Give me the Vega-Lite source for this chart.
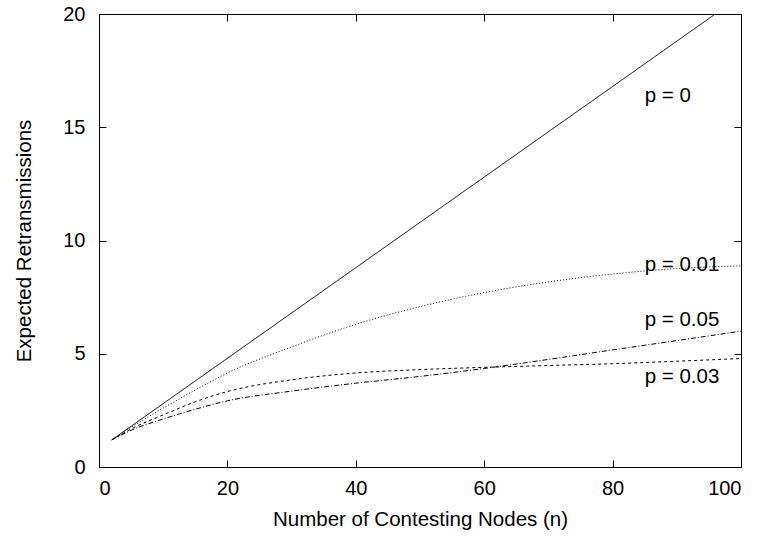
{
  "$schema": "https://vega.github.io/schema/vega-lite/v6.json",
  "width": 642,
  "height": 453,
  "autosize": "none",
  "padding": {"left": 99, "top": 14, "right": 23, "bottom": 69},
  "background": "white",
  "config": {
    "view": {"stroke": "black", "strokeWidth": 1},
    "font": "Liberation Sans",
    "axis": {
      "grid": false, "domain": false, "tickColor": "black", "tickSize": -7, "tickWidth": 1,
      "labelColor": "black", "titleColor": "black", "labelFont": "Liberation Sans", "titleFont": "Liberation Sans",
      "labelFontSize": 20, "titleFontSize": 20.5, "titleFontWeight": "normal"
    }
  },
  "datasets": {
    "curves": [
      {"n": 2, "y": 1.2, "p": "p = 0"},
      {"n": 96, "y": 20, "p": "p = 0"},
      {"n": 2, "y": 1.2, "p": "p = 0.01"},
      {"n": 5, "y": 1.75, "p": "p = 0.01"},
      {"n": 10, "y": 2.6, "p": "p = 0.01"},
      {"n": 15, "y": 3.4, "p": "p = 0.01"},
      {"n": 20, "y": 4.15, "p": "p = 0.01"},
      {"n": 30, "y": 5.3, "p": "p = 0.01"},
      {"n": 40, "y": 6.3, "p": "p = 0.01"},
      {"n": 50, "y": 7.08, "p": "p = 0.01"},
      {"n": 60, "y": 7.7, "p": "p = 0.01"},
      {"n": 70, "y": 8.17, "p": "p = 0.01"},
      {"n": 80, "y": 8.52, "p": "p = 0.01"},
      {"n": 90, "y": 8.76, "p": "p = 0.01"},
      {"n": 100, "y": 8.88, "p": "p = 0.01"},
      {"n": 2, "y": 1.2, "p": "p = 0.03"},
      {"n": 5, "y": 1.68, "p": "p = 0.03"},
      {"n": 10, "y": 2.3, "p": "p = 0.03"},
      {"n": 15, "y": 2.88, "p": "p = 0.03"},
      {"n": 20, "y": 3.33, "p": "p = 0.03"},
      {"n": 30, "y": 3.85, "p": "p = 0.03"},
      {"n": 40, "y": 4.15, "p": "p = 0.03"},
      {"n": 50, "y": 4.3, "p": "p = 0.03"},
      {"n": 60, "y": 4.4, "p": "p = 0.03"},
      {"n": 70, "y": 4.48, "p": "p = 0.03"},
      {"n": 80, "y": 4.56, "p": "p = 0.03"},
      {"n": 90, "y": 4.67, "p": "p = 0.03"},
      {"n": 100, "y": 4.79, "p": "p = 0.03"},
      {"n": 2, "y": 1.2, "p": "p = 0.05"},
      {"n": 5, "y": 1.62, "p": "p = 0.05"},
      {"n": 10, "y": 2.12, "p": "p = 0.05"},
      {"n": 15, "y": 2.55, "p": "p = 0.05"},
      {"n": 20, "y": 2.92, "p": "p = 0.05"},
      {"n": 30, "y": 3.35, "p": "p = 0.05"},
      {"n": 40, "y": 3.7, "p": "p = 0.05"},
      {"n": 50, "y": 4.0, "p": "p = 0.05"},
      {"n": 60, "y": 4.35, "p": "p = 0.05"},
      {"n": 70, "y": 4.75, "p": "p = 0.05"},
      {"n": 80, "y": 5.17, "p": "p = 0.05"},
      {"n": 90, "y": 5.58, "p": "p = 0.05"},
      {"n": 100, "y": 6.0, "p": "p = 0.05"}
    ],
    "labels": [
      {"n": 85, "y": 16.37, "label": "p = 0"},
      {"n": 85, "y": 8.94, "label": "p = 0.01"},
      {"n": 85, "y": 6.5, "label": "p = 0.05"},
      {"n": 85, "y": 3.98, "label": "p = 0.03"}
    ]
  },
  "resolve": {"axis": {"x": "independent", "y": "independent"}},
  "layer": [
    {
      "data": {"name": "curves"},
      "mark": {"type": "line", "color": "black", "strokeWidth": 1, "clip": true, "interpolate": "monotone"},
      "encoding": {
        "x": {"field": "n", "type": "quantitative", "scale": {"domain": [0, 100], "nice": false},
          "axis": {"values": [0, 20, 40, 60, 80, 100], "title": "Number of Contesting Nodes (n)", "labelPadding": 18, "titlePadding": 11}},
        "y": {"field": "y", "type": "quantitative", "scale": {"domain": [0, 20], "nice": false},
          "axis": {"values": [0, 5, 10, 15, 20], "title": "Expected Retransmissions", "labelPadding": 21, "titlePadding": 28}},
        "strokeDash": {"field": "p", "type": "nominal", "legend": null,
          "scale": {"domain": ["p = 0", "p = 0.01", "p = 0.03", "p = 0.05"], "range": [[1, 0], [1, 2], [3, 3], [5, 2, 1, 2]]}},
        "detail": {"field": "p"}
      }
    },
    {
      "data": {"name": "labels"},
      "mark": {"type": "text", "align": "left", "baseline": "middle", "fontSize": 20.5, "font": "Liberation Sans", "color": "black"},
      "encoding": {
        "x": {"field": "n", "type": "quantitative", "axis": {"orient": "top", "values": [0, 20, 40, 60, 80, 100], "labels": false, "title": null}},
        "y": {"field": "y", "type": "quantitative", "axis": {"orient": "right", "values": [0, 5, 10, 15, 20], "labels": false, "title": null}},
        "text": {"field": "label"}
      }
    }
  ]
}
